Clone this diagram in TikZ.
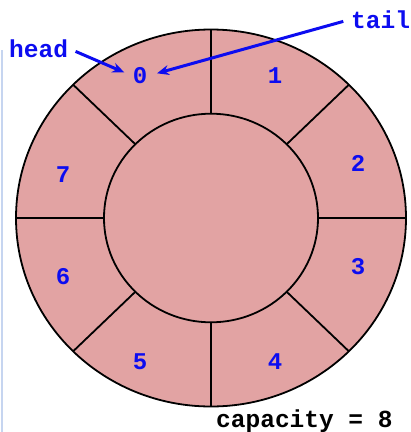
\documentclass[tikz,border=0pt]{standalone}
\usepackage{fontspec}
\setmonofont{Liberation Mono}
\usetikzlibrary{arrows.meta}
\definecolor{ring}{RGB}{226,163,163}
\definecolor{lblc}{RGB}{12,12,240}
\definecolor{framec}{RGB}{198,213,240}
\begin{document}
\begin{tikzpicture}[x=1pt,y=-1pt,
  digit/.style={font=\ttfamily\bfseries\fontsize{24}{24}\selectfont, text=lblc, inner sep=0pt},
  word/.style={font=\ttfamily\bfseries\fontsize{24.5}{24.5}\selectfont, text=lblc, inner sep=0pt, anchor=base west},
  edge/.style={line width=1.8pt, draw=black},
  ptr/.style={draw=lblc, line width=3pt, -{Stealth[length=12pt,width=10pt]}}]
\useasboundingbox (0,0) rectangle (411,432);
% left frame line
\draw[framec, line width=1.5pt] (2,50) -- (2,432);
% ring
\fill[ring] (211,218) ellipse [x radius=195, y radius=188.5];
\draw[edge] (211,218) ellipse [x radius=195, y radius=188.5];
\draw[edge] (211,218) ellipse [x radius=107, y radius=104.3];
\foreach \a in {0,45,...,315}{
  \coordinate (i\a) at ({211+107*cos(\a)},{218-104.3*sin(\a)});
  \coordinate (o\a) at ({211+195*cos(\a)},{218-188.5*sin(\a)});
  \draw[edge] (i\a) -- (o\a);
}
% slot labels
\node[digit] (d0) at (140,76) {0};
\node[digit] (d1) at (275,76) {1};
\node[digit] (d2) at (358,163) {2};
\node[digit] (d3) at (358,267) {3};
\node[digit] (d4) at (275,362) {4};
\node[digit] (d5) at (140,362) {5};
\node[digit] (d6) at (63,277) {6};
\node[digit] (d7) at (63,175) {7};
% pointers
\node[word] (hd) at (9,57) {head};
\node[word] (tl) at (351,28) {tail};
\node[font=\ttfamily\bfseries\fontsize{24.5}{24.5}\selectfont, inner sep=0pt, anchor=base west] (cap) at (216,427) {capacity = 8};
\draw[ptr, shorten <=8pt, shorten >=9pt] (hd.east) -- (d0.west);
\draw[ptr, shorten <=8pt, shorten >=10pt] (tl.west) -- (d0.east);
\end{tikzpicture}
\end{document}
